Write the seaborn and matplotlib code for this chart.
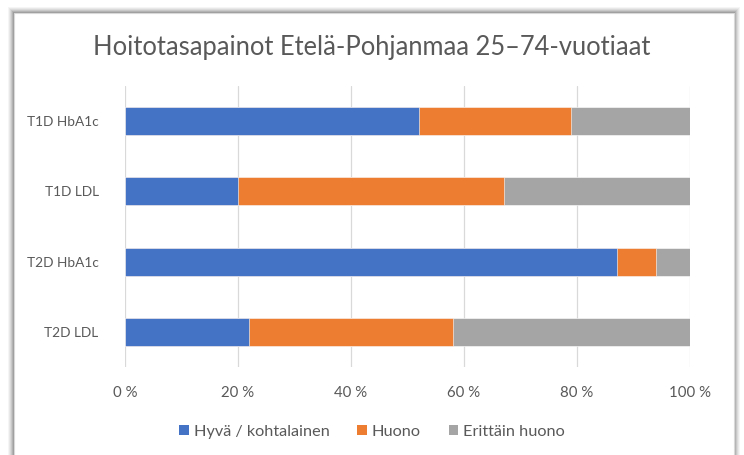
import matplotlib
matplotlib.use("Agg")
import matplotlib.pyplot as plt
from matplotlib.patches import Patch, Rectangle
import numpy as np
import pandas as pd
import seaborn as sns

categories = ["T1D HbA1c", "T1D LDL", "T2D HbA1c", "T2D LDL"]
series_names = ["Hyvä / kohtalainen", "Huono", "Erittäin huono"]
hyva = [52, 20, 87, 22]
huono = [27, 47, 7, 36]
erittain = [21, 33, 6, 42]
xticks = [0, 20, 40, 60, 80, 100]
xtick_labels = ["0 %", "20 %", "40 %", "60 %", "80 %", "100 %"]
title = "Hoitotasapainot Etelä-Pohjanmaa 25–74-vuotiaat"

colors = ["#4472C4", "#ED7D31", "#A5A5A5"]
text_color = "#595959"

sns.set_theme(style="white")
plt.rcParams["font.family"] = ["Lato", "DejaVu Sans"]

W, H = 744, 455
fig = plt.figure(figsize=(W / 100, H / 100), dpi=100)
fig.patch.set_facecolor("white")

# chart box with soft shadow
box_l, box_t, box_r, box_b = 14, 13, 734, 470
for i, a in enumerate([0.04, 0.05, 0.06, 0.08, 0.10, 0.12]):
    off = 6 - i
    fig.patches.append(Rectangle(((box_l - off) / W, 1 - (box_b + off) / H),
                                 (box_r - box_l + 2 * off) / W, (box_b - box_t + 2 * off) / H,
                                 transform=fig.transFigure, facecolor="black", alpha=a,
                                 edgecolor="none", zorder=0))
fig.patches.append(Rectangle((box_l / W, 1 - box_b / H), (box_r - box_l) / W, (box_b - box_t) / H,
                             transform=fig.transFigure, facecolor="white", edgecolor="#D9D9D9",
                             linewidth=0.8, zorder=1))

ax_l, ax_r, ax_t, ax_b = 125, 690, 86, 367
ax = fig.add_axes([ax_l / W, 1 - ax_b / H, (ax_r - ax_l) / W, (ax_b - ax_t) / H])
ax.set_facecolor("none")
ax.set_zorder(2)

df = pd.DataFrame({"cat": categories, "hyva": hyva, "huono": huono, "erittain": erittain})
df["c1"] = df["hyva"]
df["c2"] = df["hyva"] + df["huono"]
df["c3"] = df["c2"] + df["erittain"]

for col, c in zip(["c3", "c2", "c1"], colors[::-1]):
    sns.barplot(data=df, x=col, y="cat", orient="h", color=c, width=0.4,
                saturation=1, ax=ax, edgecolor="white", linewidth=0.4, zorder=3)

ax.set_xlim(0, 100)
ax.set_ylim(3.5, -0.5)
ax.set_xticks(xticks)
ax.set_xticklabels(xtick_labels)
ax.xaxis.grid(True, color="#D9D9D9", linewidth=0.9, zorder=0)
ax.set_axisbelow(True)
ax.set_xlabel("")
ax.set_ylabel("")
for s in ax.spines.values():
    s.set_visible(False)
ax.tick_params(axis="both", length=0, colors=text_color)
ax.tick_params(axis="x", pad=14, labelsize=10.8)
ax.tick_params(axis="y", pad=19, labelsize=9.8)

fig.text(0.5, 1 - 47 / H, title, ha="center", va="center", fontsize=18.4, color=text_color)

handles = [Patch(facecolor=c, edgecolor="none") for c in colors]
fig.legend(handles, series_names, loc="center", bbox_to_anchor=(0.5, 1 - 432 / H),
           ncol=3, frameon=False, fontsize=11.7, handlelength=0.6, handleheight=0.6,
           handletextpad=0.3, columnspacing=1.7, labelcolor=text_color)

fig.savefig("out.png", dpi=100, facecolor="white")
